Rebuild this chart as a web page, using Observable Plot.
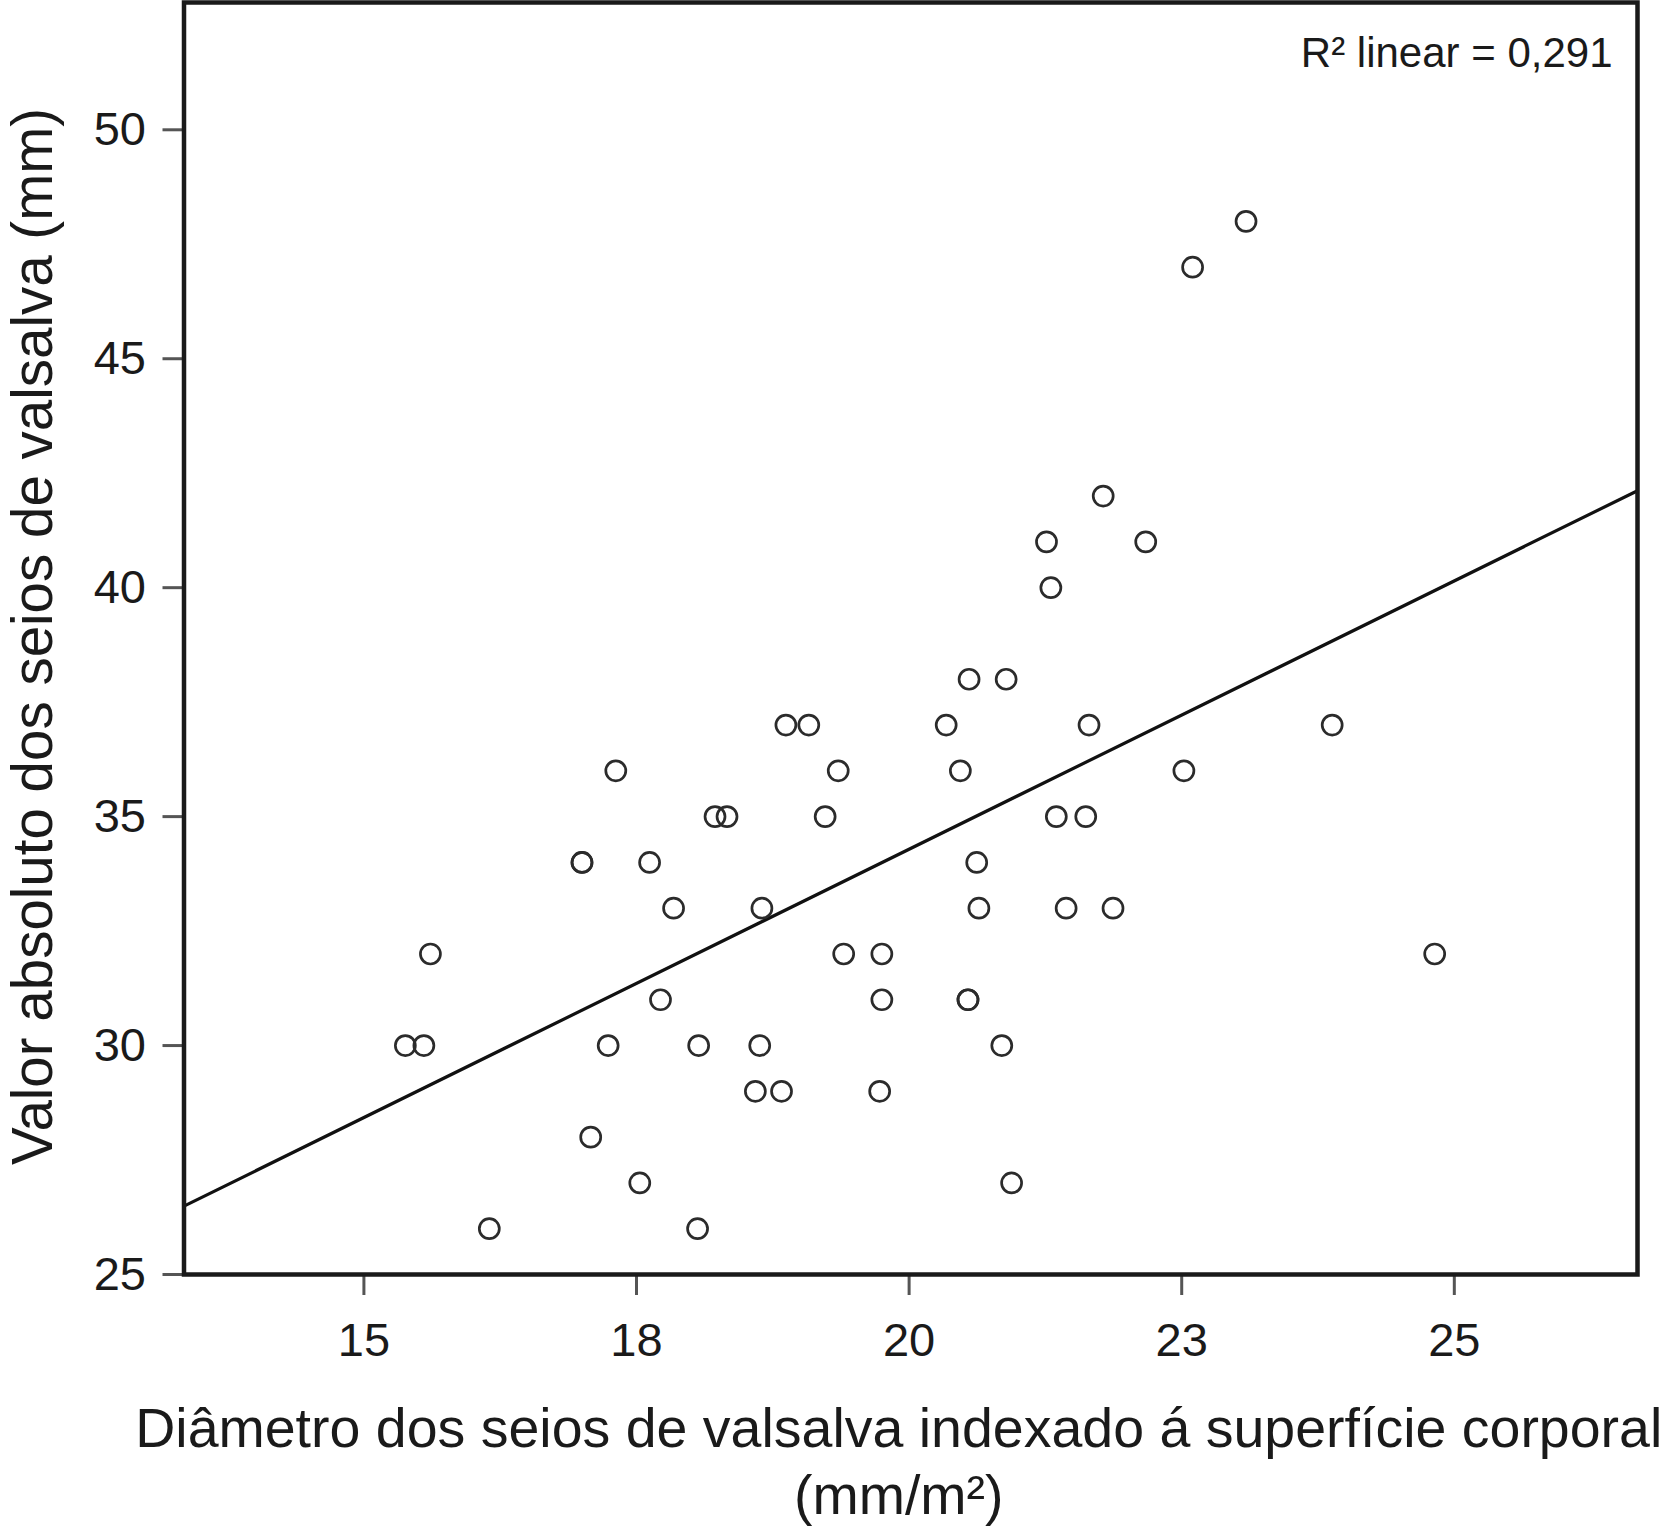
<!DOCTYPE html>
<html>
<head>
<meta charset="utf-8">
<script src="https://cdn.jsdelivr.net/npm/d3@7"></script>
<script src="https://cdn.jsdelivr.net/npm/@observablehq/plot@0.6"></script>
<style>
  html, body { margin: 0; padding: 0; background: #ffffff; overflow: hidden; }
  #chart svg { display: block; }
</style>
</head>
<body>
<div id="chart"></div>
<script>
// ---- data ----
const indexedDiameter = [
  15.38, 15.55, 15.61, 16.15, 17.00, 17.00, 17.08, 17.24, 17.31, 17.53,
  17.62, 17.72, 17.84, 18.07, 18.06, 18.22, 18.33, 18.59, 18.63, 18.65,
  18.83, 18.87, 19.08, 19.23, 19.35, 19.40, 19.73, 19.75, 19.75, 20.34,
  20.47, 20.54, 20.54, 20.55, 20.62, 20.64, 20.85, 20.89, 20.94, 21.26,
  21.30, 21.35, 21.44, 21.62, 21.65, 21.78, 21.87, 22.17, 22.52, 22.60,
  23.09, 23.88, 24.82
];
const absoluteValue = [
  30, 30, 32, 26, 34, 34, 28, 30, 36, 27,
  34, 31, 33, 30, 26, 35, 35, 29, 30, 33,
  29, 37, 37, 35, 36, 32, 29, 31, 32, 37,
  36, 31, 31, 38, 34, 33, 30, 38, 27, 41,
  40, 35, 33, 35, 37, 42, 33, 41, 36, 47,
  48, 37, 32
];
const xTicks = [15, 17.5, 20, 22.5, 25];
const xTickLabels = ["15", "18", "20", "23", "25"];
const yTicks = [25, 30, 35, 40, 45, 50];
const xDomain = [13.35, 26.68];
const yDomain = [25, 52.78];
const rSquaredLabel = "R\u00B2 linear = 0,291";
const xTitleLines = ["Diâmetro dos seios de valsalva indexado á superfície corporal", "(mm/m\u00B2)"];
const yTitle = "Valor absoluto dos seios de valsalva (mm)";

// ---- derived ----
const points = indexedDiameter.map((x, i) => ({x, y: absoluteValue[i]}));
const mx = d3.mean(indexedDiameter), my = d3.mean(absoluteValue);
const slope = d3.sum(points, p => (p.x - mx) * (p.y - my)) / d3.sum(points, p => (p.x - mx) ** 2);
const intercept = my - slope * mx;
const fitLine = xDomain.map(x => ({x, y: intercept + slope * x}));

const W = 1663, H = 1527;
const mL = 183.5, mR = 26, mT = 2, mB = 253;
const font = "'Liberation Sans', Arial, Helvetica, sans-serif";
const ink = "#1a1a1a";

const chart = Plot.plot({
  width: W,
  height: H,
  marginLeft: mL,
  marginRight: mR,
  marginTop: mT,
  marginBottom: mB,
  style: {fontFamily: font, background: "#ffffff", color: ink},
  x: {domain: xDomain, label: null},
  y: {domain: yDomain, label: null},
  marks: [
    Plot.axisX({
      ticks: xTicks,
      tickFormat: d => xTickLabels[xTicks.indexOf(d)],
      tickSize: 21, tickPadding: 27, fontSize: 47,
      stroke: "#555", strokeWidth: 3, fill: ink, label: null
    }),
    Plot.axisY({
      ticks: yTicks,
      tickSize: 21, tickPadding: 17, fontSize: 47,
      stroke: "#555", strokeWidth: 3, fill: ink, label: null
    }),
    Plot.line(fitLine, {x: "x", y: "y", stroke: "#111", strokeWidth: 3.2}),
    Plot.dot(points, {x: "x", y: "y", r: 10, fill: "none", stroke: "#2b2b2b", strokeWidth: 2.7}),
    Plot.frame({stroke: ink, strokeWidth: 4.5}),
    Plot.text([rSquaredLabel], {
      frameAnchor: "top-right", textAnchor: "end", lineAnchor: "bottom",
      dx: -25, dy: 64.5, fontSize: 42, fill: ink
    }),
    Plot.text([xTitleLines[0]], {
      frameAnchor: "bottom", textAnchor: "middle", lineAnchor: "bottom",
      dx: -12, dy: 172.7, fontSize: 55.5, fill: ink
    }),
    Plot.text([xTitleLines[1]], {
      frameAnchor: "bottom", textAnchor: "middle", lineAnchor: "bottom",
      dx: -12, dy: 239, fontSize: 55.5, fill: ink
    }),
    Plot.text([yTitle], {
      frameAnchor: "left", textAnchor: "middle", rotate: -90,
      dx: -150.5, dy: -2, fontSize: 56.5, fill: ink
    })
  ]
});
document.getElementById("chart").appendChild(chart);
</script>
</body>
</html>
